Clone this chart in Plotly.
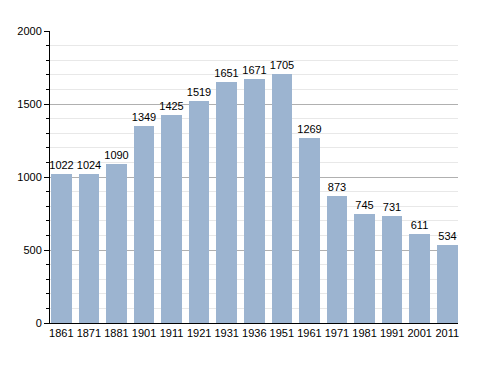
import plotly.graph_objects as go

years = ["1861", "1871", "1881", "1901", "1911", "1921", "1931", "1936",
         "1951", "1961", "1971", "1981", "1991", "2001", "2011"]
population = [1022, 1024, 1090, 1349, 1425, 1519, 1651, 1671,
              1705, 1269, 873, 745, 731, 611, 534]
y_ticks = [0, 500, 1000, 1500, 2000]

idx = list(range(len(years)))

fig = go.Figure()
fig.add_trace(go.Bar(
    x=idx, y=population, width=0.744,
    marker=dict(color="#9cb4d0", line=dict(width=0)),
    text=[str(v) for v in population], textposition="outside",
    textfont=dict(family="Liberation Sans, Arial, sans-serif", size=11, color="#000000"),
    cliponaxis=False,
))

# page body has an 8px default margin; compensate so the plot area lands where the reference has it
fig.update_layout(
    width=480, height=365,
    margin=dict(l=42, r=30, t=23, b=50, autoexpand=False),
    paper_bgcolor="white", plot_bgcolor="white",
    showlegend=False,
    bargap=0,
    uniformtext=dict(minsize=11, mode="show"),
    font=dict(family="Liberation Sans, Arial, sans-serif", size=11, color="#000000"),
)
fig.update_xaxes(
    range=[-0.41, 14.39], automargin=False,
    tickmode="array", tickvals=idx, ticktext=years,
    showgrid=False, zeroline=False,
    showline=True, linecolor="#000000", linewidth=1,
    ticks="", tickfont=dict(size=11),
)
fig.update_yaxes(
    range=[0, 2000], automargin=False,
    tickmode="array", tickvals=y_ticks,
    showgrid=True, gridcolor="#b0b0b0", gridwidth=1,
    zeroline=False,
    showline=True, linecolor="#000000", linewidth=1,
    ticks="outside", ticklen=5, tickcolor="#000000",
    minor=dict(dtick=100, tick0=0, ticks="outside", ticklen=3, tickcolor="#000000",
               showgrid=True, gridcolor="#e8e8e8", gridwidth=1),
    tickfont=dict(size=11),
)

fig.write_html("out.html")
